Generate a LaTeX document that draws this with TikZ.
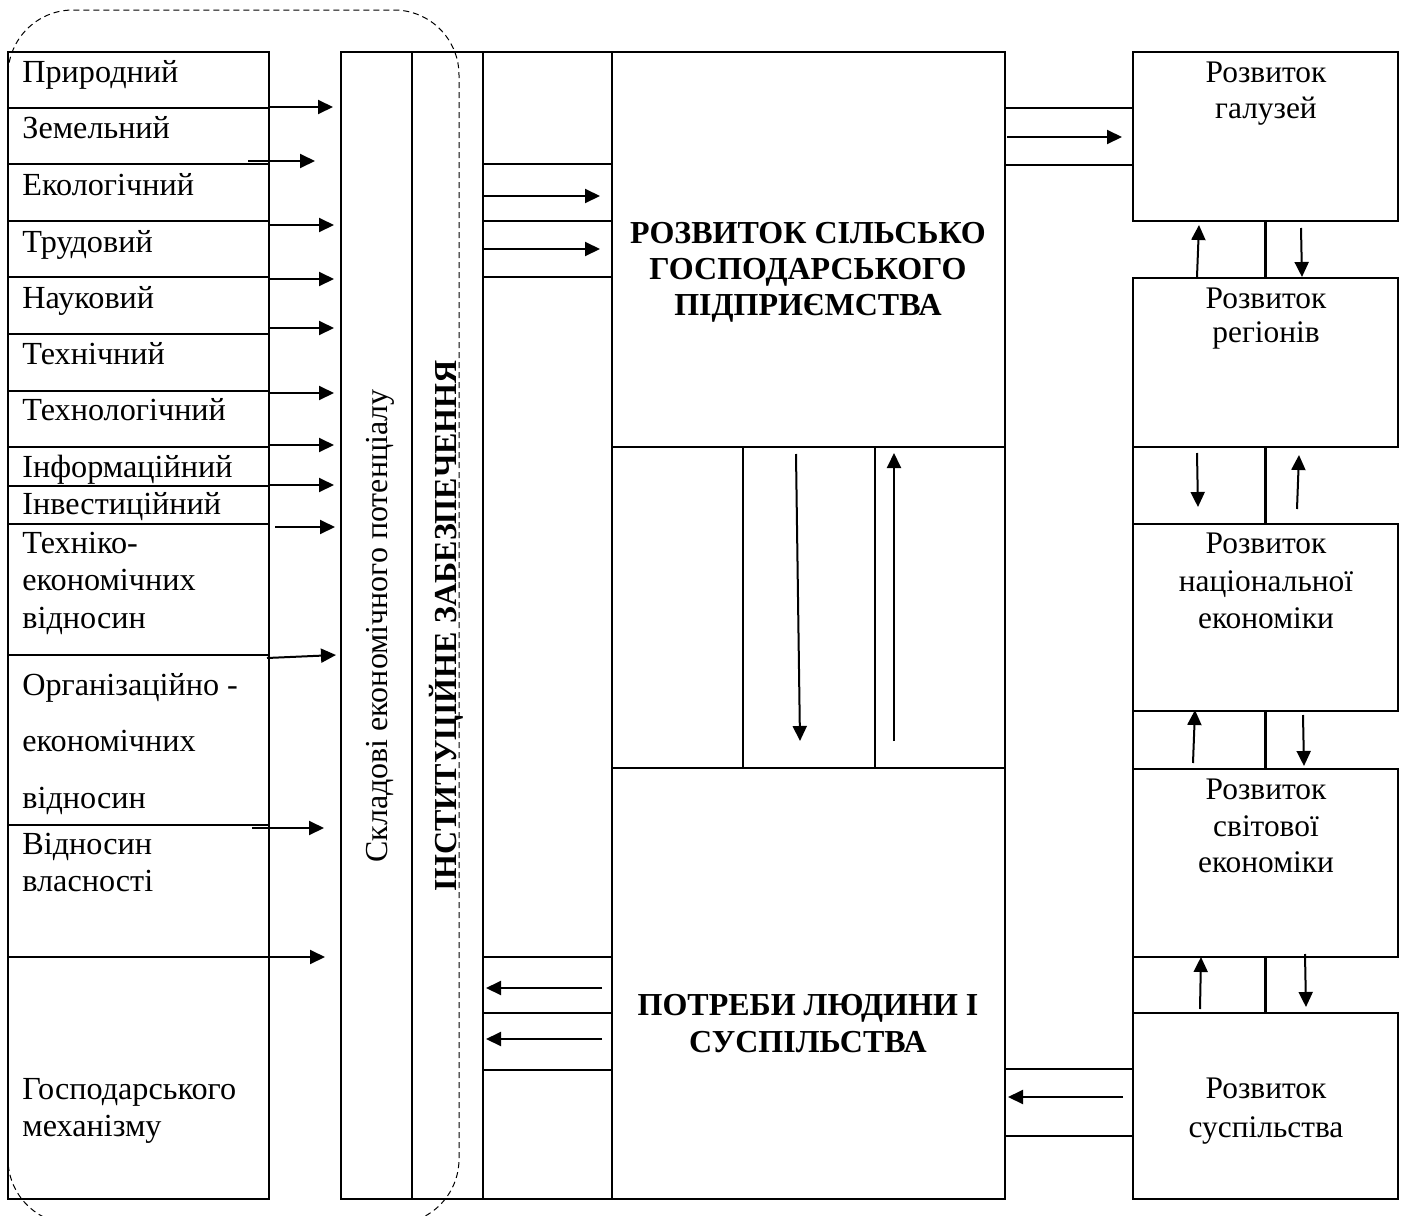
\documentclass[tikz,border=0pt]{standalone}
\usepackage{fontspec}
\setmainfont{Liberation Serif}
\usetikzlibrary{arrows.meta}
\tikzset{
  box/.style={draw, line width=1.1pt, inner sep=0pt, outer sep=0pt, anchor=north west},
  frameline/.style={line width=1.1pt},
  arr/.style={line width=1pt, -{Triangle[length=7.5pt,width=7pt]}},
  lbl/.style={inner sep=0pt, anchor=base west, font=\fontsize{16.1}{18}\selectfont},
  rlbl/.style={inner sep=0pt, anchor=base, font=\fontsize{15.7}{18}\selectfont},
  blbl/.style={inner sep=0pt, anchor=base, font=\fontsize{16}{18}\selectfont\bfseries},
  dashedframe/.style={dash pattern=on 3pt off 2pt, line width=0.5pt, rounded corners=32.5pt},
}
\newcommand\bx[5]{\node[box,minimum width={(#4-#2)*0.5pt},minimum height={(#5-#3)*0.5pt}] (#1) at (#2,#3) {};}
\begin{document}
\begin{tikzpicture}[x=0.5pt,y=-0.5pt]
\useasboundingbox (0,0) rectangle (1405,1216);
\fill[white] (0,0) rectangle (1405,1216);

% dashed rounded frame
\draw[dashedframe] (8,10) rectangle (459,1224);

% left column cells
\bx{c1}{8}{52}{269}{108}
\bx{c2}{8}{108}{269}{164}
\bx{c3}{8}{164}{269}{221}
\bx{c4}{8}{221}{269}{277}
\bx{c5}{8}{277}{269}{334}
\bx{c6}{8}{334}{269}{391}
\bx{c7}{8}{391}{269}{447}
\bx{c8}{8}{447}{269}{486}
\bx{c9}{8}{486}{269}{524}
\bx{c10}{8}{524}{269}{655}
\bx{c11}{8}{655}{269}{825}
\bx{c12}{8}{825}{269}{957}
\bx{c13}{8}{957}{269}{1199}

\node[lbl] (t1) at (22,82) {Природний};
\node[lbl] (t2) at (22,138) {Земельний};
\node[lbl] (t3) at (22,195) {Екологічний};
\node[lbl] (t4) at (22,252) {Трудовий};
\node[lbl] (t5) at (22,308) {Науковий};
\node[lbl] (t6) at (22,364) {Технічний};
\node[lbl] (t7) at (22,420) {Технологічний};
\node[lbl] (t8) at (22,477) {Інформаційний};
\node[lbl] (t9) at (22,514) {Інвестиційний};
\node[lbl] (t10a) at (22,553) {Техніко-};
\node[lbl] (t10b) at (22,590) {економічних};
\node[lbl] (t10c) at (22,628) {відносин};
\node[lbl] (t11a) at (22,695) {Організаційно -};
\node[lbl] (t11b) at (22,751) {економічних};
\node[lbl] (t11c) at (22,808) {відносин};
\node[lbl] (t12a) at (22,854) {Відносин};
\node[lbl] (t12b) at (22,891) {власності};
\node[lbl] (t13a) at (22,1099) {Господарського};
\node[lbl] (t13b) at (22,1136) {механізму};

% arrows from left column
\draw[arr] (268,107) coordinate (a1s) -- (333,107) coordinate (a1e);
\draw[arr] (248,161) coordinate (a2s) -- (315,161) coordinate (a2e);
\draw[arr] (270,225) coordinate (a3s) -- (334,225) coordinate (a3e);
\draw[arr] (270,279) coordinate (a4s) -- (334,279) coordinate (a4e);
\draw[arr] (270,328) coordinate (a5s) -- (334,328) coordinate (a5e);
\draw[arr] (270,393) coordinate (a6s) -- (334,393) coordinate (a6e);
\draw[arr] (268,445) coordinate (a7s) -- (334,445) coordinate (a7e);
\draw[arr] (268,485) coordinate (a8s) -- (334,485) coordinate (a8e);
\draw[arr] (275,527) coordinate (a9s) -- (335,527) coordinate (a9e);
\draw[arr] (267,658) coordinate (a10s) -- (336,655) coordinate (a10e);
\draw[arr] (252,828) coordinate (a11s) -- (324,828) coordinate (a11e);
\draw[arr] (252,957) coordinate (a12s) -- (325,957) coordinate (a12e);

% middle frame
\bx{v1}{341}{52}{412}{1199}
\bx{v2}{412}{52}{483}{1199}
\bx{v3}{483}{52}{612}{1199}
\bx{s1}{483}{164}{612}{221}
\bx{s2}{483}{221}{612}{277}
\bx{s3}{483}{957}{612}{1013}
\bx{s4}{483}{1013}{612}{1070}
\bx{top}{612}{52}{1005}{447}
\bx{m1}{612}{447}{743}{768}
\bx{m2}{743}{447}{875}{768}
\bx{m3}{875}{447}{1005}{768}
\bx{bot}{612}{768}{1005}{1199}

\node[rotate=90, inner sep=0pt, anchor=base, font=\fontsize{16}{18}\selectfont] (sklad) at (387,626) {Складові економічного потенціалу};
\node[rotate=90, inner sep=0pt, anchor=base, font=\fontsize{16}{18}\selectfont\bfseries] (inst) at (456,626) {ІНСТИТУЦІЙНЕ ЗАБЕЗПЕЧЕННЯ};

\node[blbl] (tp1) at (808,243) {РОЗВИТОК СІЛЬСЬКО};
\node[blbl] (tp2) at (808,279) {ГОСПОДАРСЬКОГО};
\node[blbl] (tp3) at (808,315) {ПІДПРИЄМСТВА};
\node[blbl] (bt1) at (808,1015) {ПОТРЕБИ ЛЮДИНИ І};
\node[blbl] (bt2) at (808,1052) {СУСПІЛЬСТВА};

\draw[arr] (s1.west |- 0,196) coordinate (b1s) -- (600,196) coordinate (b1e);
\draw[arr] (s2.west |- 0,249) coordinate (b2s) -- (600,249) coordinate (b2e);
\draw[arr] (602,988) coordinate (b3s) -- (486,988) coordinate (b3e);
\draw[arr] (602,1039) coordinate (b4s) -- (486,1039) coordinate (b4e);

\draw[arr] (796,454) coordinate (d1s) -- (800,741) coordinate (d1e);
\draw[arr] (894,741) coordinate (u1s) -- (894,453) coordinate (u1e);

% right connectors
\bx{k1}{1005}{108}{1133}{165}
\bx{k2}{1005}{1069}{1133}{1136}
\draw[arr] (1007,137) coordinate (k1s) -- (1122,137) coordinate (k1e);
\draw[arr] (1123,1097) coordinate (k2s) -- (1008,1097) coordinate (k2e);

% right boxes
\bx{R1}{1133}{52}{1398}{221}
\bx{R2}{1133}{278}{1398}{447}
\bx{R3}{1133}{524}{1398}{711}
\bx{R4}{1133}{769}{1398}{957}
\bx{R5}{1133}{1013}{1398}{1199}
\draw[frameline] (R2.south west) -- (R5.north west);
\draw[frameline] (R1.south) -- (R2.north);
\draw[frameline] (R2.south) -- (R3.north);
\draw[frameline] (R3.south) -- (R4.north);
\draw[frameline] (R4.south) -- (R5.north);

\node[rlbl] (r1a) at (1266,82) {Розвиток};
\node[rlbl] (r1b) at (1266,118) {галузей};
\node[rlbl] (r2a) at (1266,308) {Розвиток};
\node[rlbl] (r2b) at (1266,342) {регіонів};
\node[rlbl] (r3a) at (1266,553) {Розвиток};
\node[rlbl] (r3b) at (1266,591) {національної};
\node[rlbl] (r3c) at (1266,628) {економіки};
\node[rlbl] (r4a) at (1266,799) {Розвиток};
\node[rlbl] (r4b) at (1266,836) {світової};
\node[rlbl] (r4c) at (1266,872) {економіки};
\node[rlbl] (r5a) at (1266,1098) {Розвиток};
\node[rlbl] (r5b) at (1266,1137) {суспільства};

% vertical arrows between right boxes
\draw[arr] (1197,277) coordinate (e1s) -- (1199,225) coordinate (e1e);
\draw[arr] (1301,228) coordinate (e2s) -- (1302,277) coordinate (e2e);
\draw[arr] (1197,453) coordinate (e3s) -- (1198,507) coordinate (e3e);
\draw[arr] (1297,509) coordinate (e4s) -- (1299,455) coordinate (e4e);
\draw[arr] (1193,763) coordinate (e5s) -- (1195,710) coordinate (e5e);
\draw[arr] (1303,715) coordinate (e6s) -- (1304,766) coordinate (e6e);
\draw[arr] (1200,1009) coordinate (e7s) -- (1201,957) coordinate (e7e);
\draw[arr] (1305,954) coordinate (e8s) -- (1306,1007) coordinate (e8e);
\end{tikzpicture}
\end{document}
